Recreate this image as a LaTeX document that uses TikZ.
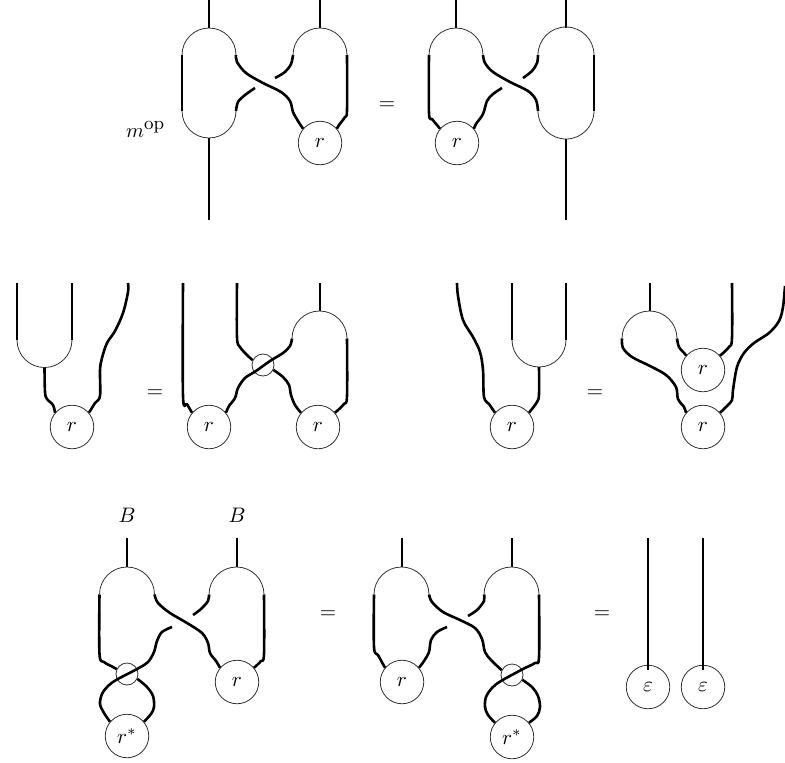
\documentclass[tikz,border=0pt]{standalone}
\usepackage{graphicx}
\newcommand{\lb}[1]{\scalebox{2.1}{$#1$}}
\begin{document}
\begin{tikzpicture}[x=1pt,y=-1pt,
  thinl/.style={line width=0.8pt, black!80},
  thk/.style={line width=2.8pt},
  med/.style={line width=2pt},
  lite/.style={line width=1.4pt},
  strand/.style={line width=2.6pt, line join=round},
  rc/.style={circle, draw, black!80, text=black, line width=0.8pt, minimum size=43.5pt, inner sep=0pt},
  sc/.style={circle, draw, black!80, line width=0.8pt, minimum size=22pt, inner sep=0pt},
  lab/.style={inner sep=0pt},
]
\useasboundingbox (0,0) rectangle (785,763);

% ================= Row 1, left =================
\node[rc] (r1) at (320,143) {\lb{r}};
\node[lab, anchor=base west] (mop) at (126,137) {\scalebox{2.05}{$m^{\mbox{\fontsize{9}{10}\selectfont op}}$}};
\node[lab] (eq1) at (387,106) {\lb{=}};
\coordinate (a1t) at (209,0);
\coordinate (a1b) at (209,28);
\draw[thk] (a1t) -- (a1b);
\draw[thinl] (182,55) arc[start angle=180,end angle=0,radius=27pt];
\draw[med] (182,55) -- (182,111);
\draw[thinl] (182,111) arc[start angle=180,end angle=360,radius=27pt];
\coordinate (a1bot) at (209,138);
\coordinate (a1end) at (209,220);
\draw[thk] (a1bot) -- (a1end);
\draw[strand] plot[smooth,tension=0.55] coordinates {(236,55) (237,62) (246,73) (263,83) (281,92) (290,101) (293,112) (298,121) (r1.140)};
\draw[strand] plot[smooth,tension=0.55] coordinates {(236,111) (238,102) (245,95) (255,88)};
\draw[strand] plot[smooth,tension=0.55] coordinates {(275,78) (285,72) (291,64) (293,55)};
\draw[med] (320,0) -- (320,28);
\draw[thinl] (293,55) arc[start angle=180,end angle=0,radius=27pt];
\draw[strand] plot[smooth,tension=0.55] coordinates {(347,55) (347,110) (345,117) (339,125) (r1.40)};

% ================= Row 1, right =================
\node[rc] (r2) at (457,143) {\lb{r}};
\draw[thk] (456,0) -- (456,28);
\draw[thinl] (429,55) arc[start angle=180,end angle=0,radius=27pt];
\draw[strand] plot[smooth,tension=0.55] coordinates {(429,55) (429,113) (432,119) (437,125) (r2.140)};
\draw[strand] plot[smooth,tension=0.55] coordinates {(483,55) (485,63) (493,72) (510,82) (528,91) (536,100) (538,111)};
\draw[strand] plot[smooth,tension=0.55] coordinates {(r2.40) (476,124) (483,114) (487,101) (493,94) (502,88)};
\draw[strand] plot[smooth,tension=0.55] coordinates {(523,78) (532,71) (537,63) (538,55)};
\draw[med] (566,0) -- (566,28);
\draw[thinl] (538,55) arc[start angle=180,end angle=0,radius=28pt];
\draw[lite] (594,55) -- (594,111);
\draw[thinl] (538,111) arc[start angle=180,end angle=360,radius=28pt];
\draw[med] (566,139) -- (566,220);

% ================= Row 2, first =================
\node[rc] (r3) at (72,427) {\lb{r}};
\node[lab] (eq2) at (155,394) {\lb{=}};
\draw[thk] (17,283) -- (17,340);
\draw[thinl] (17,340) arc[start angle=180,end angle=360,radius=27.5pt];
\draw[lite] (72,283) -- (72,340);
\draw[strand] plot[smooth,tension=0.55] coordinates {(44.5,367.5) (45,392) (47,399) (53,405) (r3.140)};
\draw[strand] plot[smooth,tension=0.55] coordinates {(128,283) (128,292) (123,313) (115,331) (107,343) (102,358) (100,370) (100,396) (95,403) (r3.40)};

% ================= Row 2, second =================
\node[rc] (r4) at (209,427) {\lb{r}};
\node[rc] (r5) at (318,427) {\lb{r}};
\node[sc] (s1) at (263,365) {};
\draw[strand] plot[smooth,tension=0.55] coordinates {(183,283) (183,396) (187,404) (r4.140)};
\draw[strand] plot[smooth,tension=0.55] coordinates {(237,283) (237,337) (240,347) (247,355) (s1.155)};
\draw[strand] plot[smooth,tension=0.55] coordinates {(s1.-25) (283,377) (289,385) (291,395) (295,405) (r5.140)};
\draw[strand] plot[smooth,tension=0.55] coordinates {(r4.40) (229,406) (235,398) (238,388) (245,378) (256,371) (270,361) (283,353) (290,346) (292,338.5)};
\draw[med] (319.5,283) -- (319.5,311);
\draw[thinl] (292,338.5) arc[start angle=180,end angle=0,radius=27.5pt];
\draw[strand] plot[smooth,tension=0.55] coordinates {(347,338.5) (347,396) (344,404) (r5.40)};

% ================= Row 2, third =================
\node[rc] (r6) at (512,427) {\lb{r}};
\node[lab] (eq3) at (595,394) {\lb{=}};
\draw[strand] plot[smooth,tension=0.55] coordinates {(457,283) (458,296) (463,320) (473,337) (480,352) (483,370) (484,397) (489,404) (r6.140)};
\draw[thk] (512,283) -- (512,340);
\draw[thinl] (512,340) arc[start angle=180,end angle=360,radius=27pt];
\draw[lite] (566,283) -- (566,340);
\draw[strand] plot[smooth,tension=0.55] coordinates {(539,367) (539,394) (537,402) (r6.40)};

% ================= Row 2, fourth =================
\node[rc] (r7) at (703,370) {\lb{r}};
\node[rc] (r8) at (703,427) {\lb{r}};
\draw[med] (649.5,283) -- (649.5,311);
\draw[thinl] (622,338.5) arc[start angle=180,end angle=0,radius=27.5pt];
\draw[strand] plot[smooth,tension=0.55] coordinates {(677,338.5) (679,347) (685,354) (r7.140)};
\draw[strand] plot[smooth,tension=0.55] coordinates {(732,283) (732,338) (729,347) (r7.40)};
\draw[strand] plot[smooth,tension=0.55] coordinates {(622,338.5) (623,348) (632,357) (650,366) (666,375) (676,387) (678,399) (684,407) (r8.140)};
\draw[strand] plot[smooth,tension=0.55] coordinates {(785,286) (783,307) (779,321) (769,333) (754,343) (744,353) (737,367) (733,390) (732,400) (726,407) (r8.40)};

% ================= Row 3, first =================
\node[lab] (B1) at (127,515) {\lb{B}};
\node[lab] (B2) at (237,515) {\lb{B}};
\node[rc] (r9) at (237,682) {\lb{r}};
\node[rc] (r10) at (127,736) {\lb{r^*}};
\node[sc] (s2) at (127,674) {};
\node[lab] (eq4) at (328,615) {\lb{=}};
\draw[med] (127,538) -- (127,567);
\draw[med] (237,538) -- (237,567);
\draw[thinl] (99.5,594.5) arc[start angle=180,end angle=0,radius=27.5pt];
\draw[thinl] (209,594.5) arc[start angle=180,end angle=0,radius=27.5pt];
\draw[strand] plot[smooth,tension=0.55] coordinates {(99.5,594.5) (99.5,654) (104,662) (113,667) (s2.155)};
\draw[strand] plot[smooth,tension=0.55] coordinates {(154.5,594.5) (158,603) (170,613) (187,623) (202,633) (208,643) (210,653) (216,661) (r9.140)};
\draw[strand] plot[smooth,tension=0.55] coordinates {(209,594.5) (208,601) (201,609) (193,615)};
\draw[strand] plot[smooth,tension=0.55] coordinates {(172,627) (162,632) (157,641) (154,652) (148,662) (138,668.5) (117,679.5) (108,686) (102,694) (100,704) (104,713) (r10.140)};
\draw[strand] plot[smooth,tension=0.55] coordinates {(s2.-25) (147,687) (153,696) (154,707) (151,714) (r10.40)};
\draw[strand] plot[smooth,tension=0.55] coordinates {(264,594.5) (264,654) (261,661) (r9.40)};

% ================= Row 3, second =================
\node[rc] (r11) at (402,682) {\lb{r}};
\node[rc] (r12) at (512,737) {\lb{r^*}};
\node[sc] (s3) at (512,675) {};
\node[lab] (eq5) at (602,615) {\lb{=}};
\draw[med] (402,538) -- (402,567);
\draw[thk] (512,538) -- (512,567);
\draw[thinl] (374,594.5) arc[start angle=180,end angle=0,radius=27.5pt];
\draw[thinl] (484,594.5) arc[start angle=180,end angle=0,radius=27.5pt];
\draw[strand] plot[smooth,tension=0.55] coordinates {(374,594.5) (374,647) (378,655) (r11.140)};
\draw[strand] plot[smooth,tension=0.55] coordinates {(429,594.5) (432,602) (443,612) (460,620) (475,628) (482,639) (485,652) (491,660) (s3.155)};
\draw[strand] plot[smooth,tension=0.55] coordinates {(484,594.5) (484,601) (477,610) (468,616)};
\draw[strand] plot[smooth,tension=0.55] coordinates {(447,627) (437,632) (431,640) (429,652) (424,661) (r11.40)};
\draw[strand] plot[smooth,tension=0.55] coordinates {(539,594.5) (539,657) (535,663) (523,669) (501,681) (492,688) (486,697) (485,707) (488,715) (r12.140)};
\draw[strand] plot[smooth,tension=0.55] coordinates {(s3.-25) (532,687) (538,696) (540,707) (537,716) (r12.40)};

% ================= Row 3, third =================
\node[rc] (e1) at (648,687) {\lb{\varepsilon}};
\node[rc] (e2) at (703,687) {\lb{\varepsilon}};
\coordinate (e1t) at (648,538);
\coordinate (e2t) at (703,538);
\draw[med] (e1t) -- ([yshift=-5pt]e1.north);
\draw[thk] (e2t) -- ([yshift=-5pt]e2.north);
\end{tikzpicture}
\end{document}
